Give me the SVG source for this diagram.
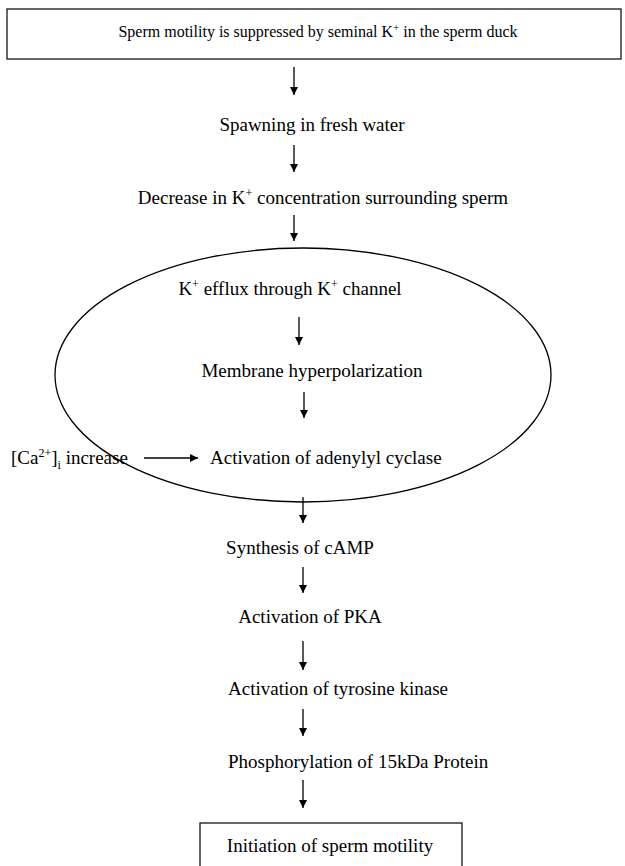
<svg xmlns="http://www.w3.org/2000/svg" width="625" height="866" viewBox="0 0 625 866">
<defs>
<marker id="ah" viewBox="0 0 8 10" refX="8" refY="5" markerWidth="8" markerHeight="10" markerUnits="userSpaceOnUse" orient="auto">
<path d="M0,1 L8,5 L0,9 Z" fill="#000"/>
</marker>
</defs>
<style>
text{font-family:"Liberation Serif","Times New Roman",serif;font-size:19px;fill:#000}
text.top{font-size:16px}
.c{text-anchor:middle}
.box{fill:none;stroke:#000;stroke-width:1.2}
.ar{stroke:#000;stroke-width:1.3;fill:none;marker-end:url(#ah)}
</style>
<rect width="625" height="866" fill="#fff"/>
<g id="membrane"><ellipse cx="303" cy="375" rx="248" ry="127" fill="none" stroke="#000" stroke-width="1.3"/></g>
<g id="n1"><rect class="box" x="7" y="9" width="614" height="50"/><text class="c top" x="318" y="37">Sperm motility is suppressed by seminal K<tspan dy="-6" font-size="11">+</tspan><tspan dy="6"> in the sperm duck</tspan></text></g>
<g id="n2"><text class="c" x="312" y="131">Spawning in fresh water</text></g>
<g id="n3"><text class="c" x="323" y="204">Decrease in K<tspan dy="-7" font-size="12">+</tspan><tspan dy="7"> concentration surrounding sperm</tspan></text></g>
<g id="n4"><text class="c" x="290" y="295">K<tspan dy="-7" font-size="12">+</tspan><tspan dy="7"> efflux through K</tspan><tspan dy="-7" font-size="12">+</tspan><tspan dy="7"> channel</tspan></text></g>
<g id="n5"><text class="c" x="312" y="377">Membrane hyperpolarization</text></g>
<g id="n6"><text x="11" y="464">[Ca<tspan dy="-7" font-size="12">2+</tspan><tspan dy="7">]</tspan><tspan dy="5" font-size="12">i</tspan><tspan dy="-5"> increase</tspan></text></g>
<g id="n7"><text x="210" y="464">Activation of adenylyl cyclase</text></g>
<g id="n8"><text class="c" x="300" y="554">Synthesis of cAMP</text></g>
<g id="n9"><text class="c" x="310" y="623">Activation of PKA</text></g>
<g id="n10"><text x="228" y="695">Activation of tyrosine kinase</text></g>
<g id="n11"><text x="228" y="768">Phosphorylation of 15kDa Protein</text></g>
<g id="n12"><rect class="box" x="200" y="823" width="262" height="60"/><text class="c" x="330" y="852">Initiation of sperm motility</text></g>
<g id="connectors">
<line class="ar" x1="294" y1="67" x2="294" y2="95"/>
<line class="ar" x1="294" y1="145" x2="294" y2="172"/>
<line class="ar" x1="294" y1="215" x2="294" y2="241"/>
<line class="ar" x1="299" y1="317" x2="299" y2="345"/>
<line class="ar" x1="304" y1="392" x2="304" y2="418"/>
<line class="ar" x1="144" y1="458" x2="198" y2="458"/>
<line class="ar" x1="303" y1="497" x2="303" y2="523"/>
<line class="ar" x1="303" y1="567" x2="303" y2="593"/>
<line class="ar" x1="303" y1="641" x2="303" y2="670"/>
<line class="ar" x1="303" y1="709" x2="303" y2="736"/>
<line class="ar" x1="303" y1="780" x2="303" y2="808"/>
</g>
</svg>
